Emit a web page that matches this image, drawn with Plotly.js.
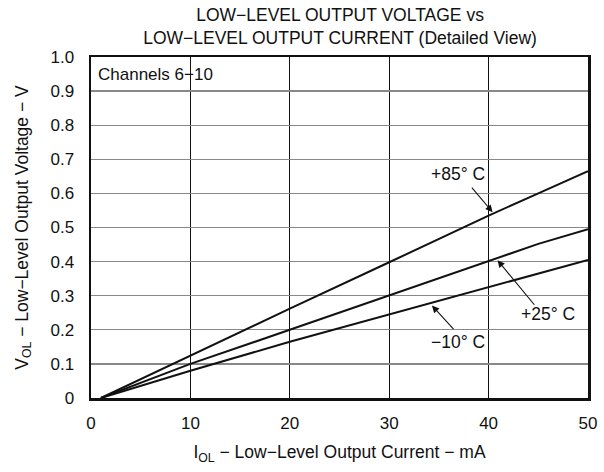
<!DOCTYPE html>
<html><head><meta charset="utf-8">
<script src="https://cdn.plot.ly/plotly-3.0.1.min.js"></script>
<style>html,body{margin:0;padding:0;background:#fff}#c{width:604px;height:472px}</style>
</head><body><div id="c"></div>
<script>
const current = [1, 10, 20, 30, 40, 45, 50];
const v85 = [0, 0.125, 0.262, 0.398, 0.535, 0.60, 0.665];
const v25 = [0, 0.100, 0.200, 0.300, 0.400, 0.452, 0.495];
const vm10 = [0, 0.080, 0.165, 0.245, 0.325, 0.365, 0.405];
const yTickVals = [0, 0.1, 0.2, 0.3, 0.4, 0.5, 0.6, 0.7, 0.8, 0.9, 1.0];
const yTickText = ["0", "0.1", "0.2", "0.3", "0.4", "0.5", "0.6", "0.7", "0.8", "0.9", "1.0"];
const xTickVals = [0, 10, 20, 30, 40, 50];

const fam = "Liberation Sans, Arial, sans-serif";
const f = (s) => ({family: fam, size: s, color: "#111"});
const line = {color: "#111", width: 2};
const traces = [
  {x: current, y: v85, mode: "lines", line: line, name: "+85°C"},
  {x: current, y: v25, mode: "lines", line: line, name: "+25°C"},
  {x: current, y: vm10, mode: "lines", line: line, name: "-10°C"}
];
const arrow = (x, y, ax, ay) => ({x: x, y: y, ax: ax, ay: ay, xref: "x", yref: "y", text: "", showarrow: true,
  arrowhead: 2, arrowsize: 1.3, arrowwidth: 1.1, arrowcolor: "#111"});
const label = (x, y, t) => ({x: x, y: y, xref: "x", yref: "y", text: t, showarrow: false, font: f(17.5)});
const layout = {
  width: 604, height: 472,
  margin: {l: 91, r: 16, t: 57, b: 74},
  paper_bgcolor: "#fff", plot_bgcolor: "#fff",
  showlegend: false,
  font: f(17),
  title: {text: "LOW−LEVEL OUTPUT VOLTAGE vs<br>LOW−LEVEL OUTPUT CURRENT (Detailed View)", xref: "container", yref: "container",
    x: 0.563, xanchor: "center", y: 0.9555, yanchor: "middle", font: f(17.5)},
  xaxis: {range: [0, 50], tickvals: xTickVals, showgrid: true, gridcolor: "#111", gridwidth: 1,
    showline: true, linecolor: "#111", linewidth: 2.5, mirror: true, zeroline: false, ticks: "", ticklen: 0,
    ticklabelstandoff: 8, tickfont: f(17),
    title: {text: "I<sub>OL</sub> − Low−Level Output Current − mA", standoff: 14, font: f(17.5)}},
  yaxis: {range: [0, 1.0], tickvals: yTickVals, ticktext: yTickText, showgrid: true, gridcolor: "#888", gridwidth: 1.3,
    showline: true, linecolor: "#111", linewidth: 2.5, mirror: true, zeroline: false, ticks: "", ticklen: 0,
    ticklabelstandoff: 11, tickfont: f(17),
    title: {text: "V<sub>OL</sub> − Low−Level Output Voltage − V", standoff: 18, font: f(17.5)}},
  annotations: [
    {x: 0, y: 1, xref: "paper", yref: "paper", xanchor: "left", yanchor: "top", xshift: 5, yshift: -6, text: "Channels 6−10", showarrow: false, font: f(17)},
    label(36.9, 0.658, "+85° C"),
    label(46.0, 0.245, "+25° C"),
    label(36.9, 0.163, "−10° C"),
    arrow(40.4, 0.545, -22, -26),
    arrow(40.9, 0.404, 38, 46),
    arrow(34.3, 0.271, 23, 25)
  ]
};
Plotly.newPlot("c", traces, layout, {displayModeBar: false, staticPlot: true});
</script></body></html>
